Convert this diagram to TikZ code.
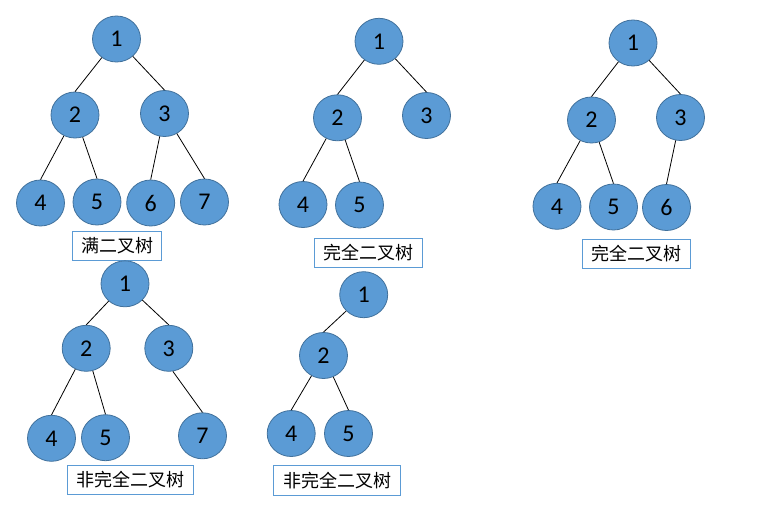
\documentclass[tikz,border=0pt]{standalone}
\usepackage{fontspec}
\setmainfont{Carlito}
\newfontfamily\cjk{Noto Sans CJK SC}
\usetikzlibrary{shapes.geometric}
\definecolor{nodefill}{HTML}{5B9BD5}
\definecolor{nodeline}{HTML}{41719C}
\definecolor{boxline}{HTML}{5B9BD5}
\begin{document}
\begin{tikzpicture}[x=1pt,y=-1pt,
  tn/.style={ellipse,draw=nodeline,fill=nodefill,line width=0.8pt,minimum width=48pt,minimum height=46pt,inner sep=0pt,font=\fontsize{24}{24}\selectfont,text=black},
  lbl/.style={rectangle,draw=boxline,line width=1pt,fill=white,minimum height=29pt,inner sep=0pt,font=\cjk\fontsize{18}{18}\selectfont},
  edge/.style={draw=black,line width=0.8pt}]
\useasboundingbox (0,0) rectangle (760,511);
\fill[white] (0,0) rectangle (760,511);
% Tree A: full binary tree
\node[tn] (a1) at (116.5,39) {1};
\node[tn] (a2) at (75,115) {2};
\node[tn] (a3) at (164.5,113.5) {3};
\node[tn] (a4) at (40.5,203) {4};
\node[tn] (a5) at (97,202) {5};
\node[tn] (a6) at (150.7,203) {6};
\node[tn] (a7) at (204.5,202) {7};
\draw[edge] (a1) -- (a2.north);
\draw[edge] (a1) -- (a3.north);
\draw[edge] (a2) -- (a4.north);
\draw[edge] (a2) -- (a5.north);
\draw[edge] (a3) -- (a6.north);
\draw[edge] (a3) -- (a7.north);
\node[lbl,minimum width=89pt] (la) at (117,246) {满二叉树};
% Tree B: complete binary tree
\node[tn] (b1) at (379,41.3) {1};
\node[tn] (b2) at (337.5,117.8) {2};
\node[tn] (b3) at (426.5,115.5) {3};
\node[tn] (b4) at (303,204.5) {4};
\node[tn] (b5) at (359.5,205) {5};
\draw[edge] (b1) -- (b2.north);
\draw[edge] (b1) -- (b3.north);
\draw[edge] (b2) -- (b4.north);
\draw[edge] (b2) -- (b5.north);
\node[lbl,minimum width=108pt] (lb) at (368.3,252.8) {完全二叉树};
% Tree C: complete binary tree
\node[tn] (c1) at (633,43) {1};
\node[tn] (c2) at (591.5,120) {2};
\node[tn] (c3) at (680.5,117.5) {3};
\node[tn] (c4) at (557,206.3) {4};
\node[tn] (c5) at (613.5,207) {5};
\node[tn] (c6) at (666.5,207.5) {6};
\draw[edge] (c1) -- (c2.north);
\draw[edge] (c1) -- (c3.north);
\draw[edge] (c2) -- (c4.north);
\draw[edge] (c2) -- (c5.north);
\draw[edge] (c3) -- (c6.north);
\node[lbl,minimum width=108pt] (lc) at (636.5,253.5) {完全二叉树};
% Tree D: not complete
\node[tn] (d1) at (125,283.8) {1};
\node[tn] (d2) at (86.2,348.3) {2};
\node[tn] (d3) at (168.8,348.3) {3};
\node[tn] (d4) at (51.5,438.3) {4};
\node[tn] (d5) at (105.5,437.7) {5};
\node[tn] (d7) at (202.5,435.8) {7};
\draw[edge] (d1) -- (d2.north);
\draw[edge] (d1) -- (d3.north);
\draw[edge] (d2) -- (d4.north);
\draw[edge] (d2) -- (d5.north);
\draw[edge] (d3.-80) -- (d7.north);
\node[lbl,minimum width=126pt] (ld) at (130.7,479.8) {非完全二叉树};
% Tree E: not complete
\node[tn] (e1) at (363.7,294.7) {1};
\node[tn] (e2) at (323.5,355.5) {2};
\node[tn] (e4) at (291.2,433.5) {4};
\node[tn] (e5) at (348.5,433.5) {5};
\draw[edge] (e1) -- (e2.north);
\draw[edge] (e2) -- (e4.north);
\draw[edge] (e2) -- (e5.north);
\node[lbl,minimum width=126.7pt,minimum height=30pt] (le) at (337.3,480.7) {非完全二叉树};
\end{tikzpicture}
\end{document}
